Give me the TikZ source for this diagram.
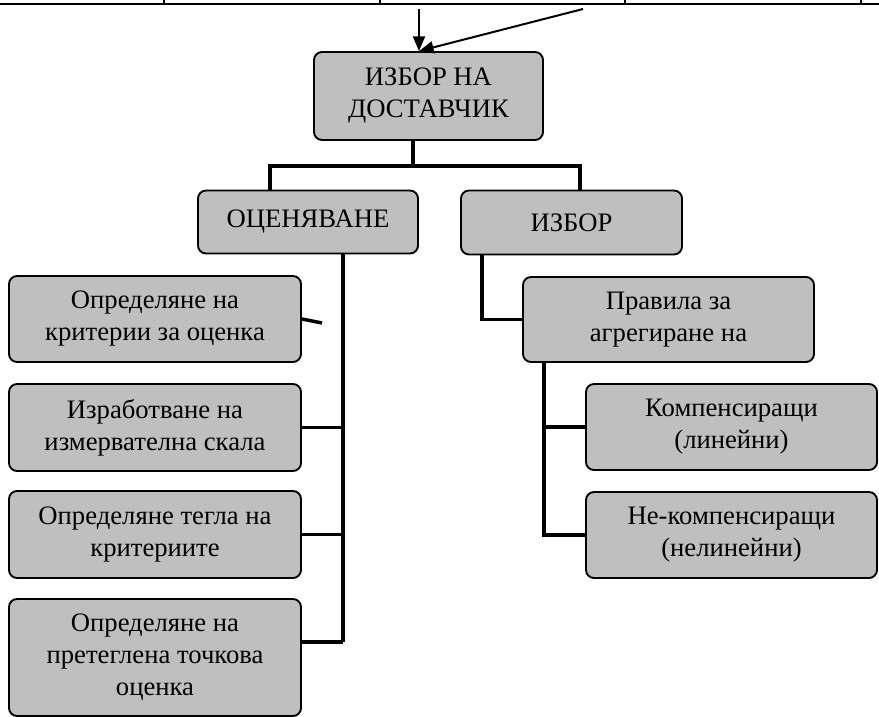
\documentclass[tikz,border=0pt]{standalone}
\usepackage{fontspec}
\setmainfont{Liberation Serif}
\usetikzlibrary{arrows.meta}

\begin{document}
\begin{tikzpicture}[x=0.75pt,y=-0.75pt,
		blok/.style={draw, line width=1.4pt, rounded corners=6pt, fill=gray!50, align=center,
			font=\fontsize{20}{24}\selectfont, inner sep=2pt},
		vrska/.style={line width=2.6pt},
		strelka/.style={line width=1.5pt, -{Triangle[length=11pt,width=9pt]}}]
		\useasboundingbox (0,0) rectangle (879,717);
		% gornata tablica
		\draw[line width=1.8pt] (0,4) -- (879,4);
		\foreach \x in {164,380,625,861}
			\draw[line width=0.8pt] (\x,0) -- (\x,4);
		% blokove
		\draw (428.5,96) node [blok, minimum width=171.75pt, minimum height=66pt] (izbor) {ИЗБОР НА\\ДОСТАВЧИК};
		\draw (308,222) node [blok, minimum width=165pt, minimum height=47.25pt] (ocen) {ОЦЕНЯВАНЕ};
		\draw (571.5,222.5) node [blok, minimum width=165.75pt, minimum height=48pt] (izb) {ИЗБОР};
		\draw (155,319) node [blok, minimum width=219pt, minimum height=64.5pt] (k1) {Определяне на\\критерии за оценка};
		\draw (155,427.5) node [blok, minimum width=219pt, minimum height=65.25pt] (k2) {Изработване на\\измервателна скала};
		\draw (155,534.5) node [blok, minimum width=219pt, minimum height=65.25pt] (k3) {Определяне тегла на\\критериите};
		\draw (155,657.5) node [blok, minimum width=219pt, minimum height=87.75pt] (k4) {Определяне на\\претеглена точкова\\оценка};
		\draw (668.5,319.5) node [blok, minimum width=218.25pt, minimum height=63.75pt] (prav) {Правила за\\агрегиране на};
		\draw (731.5,427) node [blok, minimum width=218.25pt, minimum height=64.5pt] (komp) {Компенсиращи\\(линейни)};
		\draw (731.5,535) node [blok, minimum width=218.25pt, minimum height=64.5pt] (nekomp) {Не-компенсиращи\\(нелинейни)};
		% strelki otgore
		\coordinate (s1) at (419,9);
		\coordinate (s2) at (583,9);
		\draw[strelka] (s1) -- (s1 |- izbor.north);
		\draw[strelka] (s2) -- (s1 |- izbor.north);
		% vrski
		\coordinate (r0) at (413,166);
		\coordinate (rl) at (270,166);
		\coordinate (rd) at (580,166);
		\draw[vrska] (r0 |- izbor.south) -- (r0);
		\draw[vrska] (rl |- ocen.north) -- (rl) -- (rd) -- (rd |- izb.north);
		\coordinate (o1) at (322,323);
		\coordinate (o4) at (343,642);
		\draw[vrska] (o4 |- ocen.south) -- (o4);
		\draw[vrska] (k1.east) -- (o1);
		\draw[vrska] (k2.east) -- (k2.east -| o4);
		\draw[vrska] (k3.east) -- (k3.east -| o4);
		\draw[vrska] (k4.east |- o4) -- (o4);
		\coordinate (i1) at (482,319.5);
		\draw[vrska] (i1 |- izb.south) -- (i1) -- (prav.west);
		\coordinate (p2) at (544,535);
		\draw[vrska] (p2 |- prav.south) -- (p2) -- (nekomp.west);
		\draw[vrska] (komp.west -| p2) -- (komp.west);
	\end{tikzpicture}
\end{document}
